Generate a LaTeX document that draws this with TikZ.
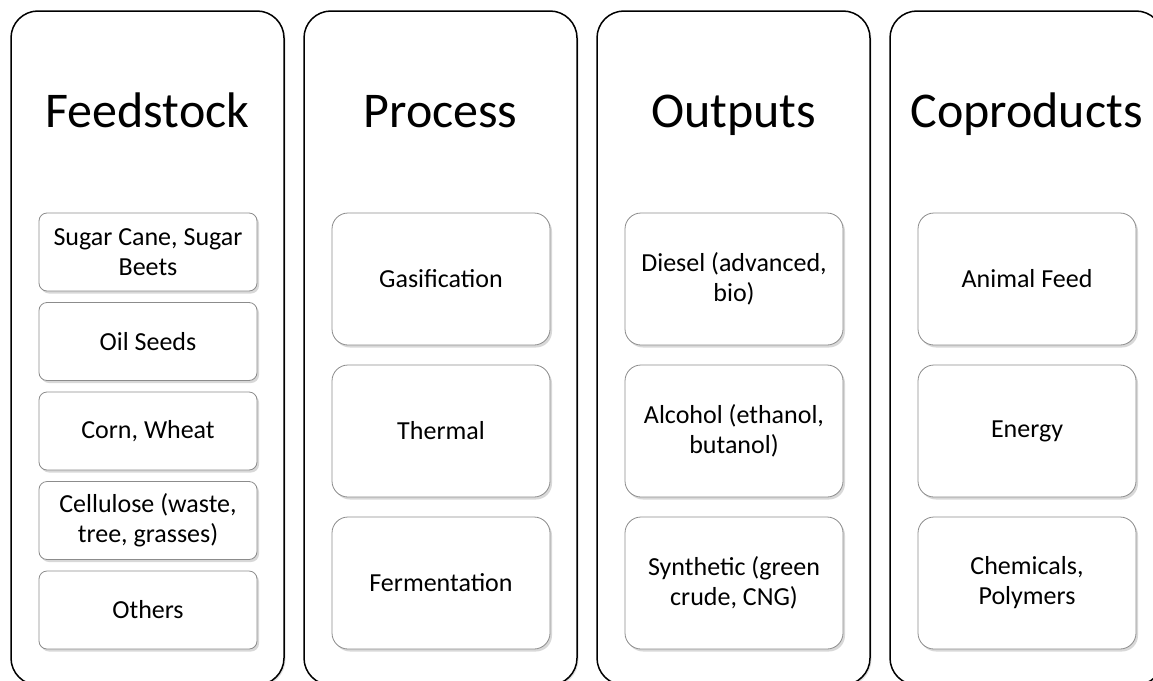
\documentclass[tikz,border=0pt]{standalone}
\usepackage{fontspec}
\setmainfont{Carlito}
\usetikzlibrary{shadows}

\tikzset{
  column/.style={draw=black, line width=1.5pt, rounded corners=27pt,
    minimum width=273pt, minimum height=674pt, fill=white,
    drop shadow={shadow xshift=1.5pt, shadow yshift=-1.5pt, opacity=.25}},
  heading/.style={font=\fontsize{50}{58}\selectfont, inner sep=0pt, anchor=base},
  item/.style={draw=black!45, line width=.8pt, rounded corners=8pt, fill=white,
    minimum width=218pt, minimum height=78pt, align=center,
    font=\fontsize{26}{30}\selectfont,
    drop shadow={shadow xshift=2pt, shadow yshift=-2.5pt, opacity=.3}},
  bigitem/.style={item, rounded corners=16pt, minimum height=132pt}
}

\begin{document}
\begin{tikzpicture}[x=1pt,y=-1pt]
    \useasboundingbox[fill=white] (0,0) rectangle (1153,680);

    % columns
    \node[column] (feedcol) at (147.5,348) {};
    \node[column] (proccol) at (440.5,348) {};
    \node[column] (outcol)  at (733.5,348) {};
    \node[column] (copcol)  at (1026.5,348) {};

    % headings
    \node[heading] (feedhd) at (147.5,127) {Feedstock};
    \node[heading] (prochd) at (440.5,127) {Process};
    \node[heading] (outhd)  at (733.5,127) {Outputs};
    \node[heading] (cophd)  at (1026.5,127) {Coproducts};

    % feedstock
    \node[item] (sugar) at (148,252)   {Sugar Cane, Sugar\\Beets};
    \node[item] (oil)   at (148,341.5) {Oil Seeds};
    \node[item] (corn)  at (148,431)   {Corn, Wheat};
    \node[item] (cell)  at (148,520.5) {Cellulose (waste,\\tree, grasses)};
    \node[item] (other) at (148,610)   {Others};

    % process
    \node[bigitem] (gas)   at (441,279) {Gasification};
    \node[bigitem] (therm) at (441,431) {Thermal};
    \node[bigitem] (ferm)  at (441,583) {Fermentation};

    % outputs
    \node[bigitem] (diesel) at (734,279) {Diesel (advanced,\\bio)};
    \node[bigitem] (alc)    at (734,431) {Alcohol (ethanol,\\butanol)};
    \node[bigitem] (synth)  at (734,583) {Synthetic (green\\crude, CNG)};

    % coproducts
    \node[bigitem] (feed)   at (1027,279) {Animal Feed};
    \node[bigitem] (energy) at (1027,431) {Energy};
    \node[bigitem] (chem)   at (1027,583) {Chemicals,\\Polymers};
\end{tikzpicture}
\end{document}
